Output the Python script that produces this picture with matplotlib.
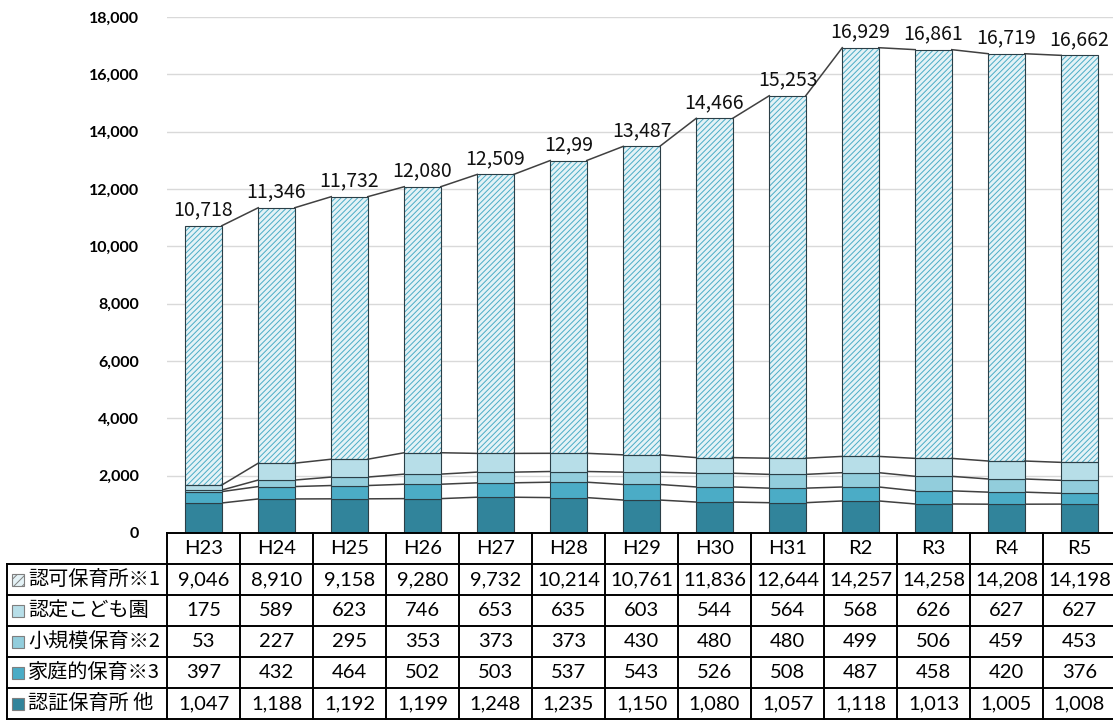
import matplotlib
matplotlib.use("Agg")
import matplotlib.pyplot as plt
from matplotlib.patches import Rectangle

plt.rcParams['font.family'] = ['Lato', 'Noto Sans CJK JP', 'DejaVu Sans']
plt.rcParams['hatch.linewidth'] = 0.7

years = ["H23", "H24", "H25", "H26", "H27", "H28", "H29", "H30", "H31", "R2", "R3", "R4", "R5"]
# 下から積み上げ順
ninsho = [1047, 1188, 1192, 1199, 1248, 1235, 1150, 1080, 1057, 1118, 1013, 1005, 1008]
katei = [397, 432, 464, 502, 503, 537, 543, 526, 508, 487, 458, 420, 376]
shokibo = [53, 227, 295, 353, 373, 373, 430, 480, 480, 499, 506, 459, 453]
nintei = [175, 589, 623, 746, 653, 635, 603, 544, 564, 568, 626, 627, 627]
ninka = [9046, 8910, 9158, 9280, 9732, 10214, 10761, 11836, 12644, 14257, 14258, 14208, 14198]
total_labels = ["10,718", "11,346", "11,732", "12,080", "12,509", "12,99", "13,487",
                "14,466", "15,253", "16,929", "16,861", "16,719", "16,662"]

stack = [ninsho, katei, shokibo, nintei, ninka]
names = ["認証保育所 他", "家庭的保育※3", "小規模保育※2", "認定こども園", "認可保育所※1"]
colors = ["#31849B", "#4BACC6", "#92CDDC", "#B7DEE8", "#E4F2F6"]

W, H = 1113, 720
fig = plt.figure(figsize=(W / 100, H / 100), dpi=100)
X0, CW = 167, 73  # 表の列開始, 列幅 (px)
Y0, YT = 533, 17
ax = fig.add_axes([X0 / W, 1 - Y0 / H, (13 * CW) / W, (Y0 - YT) / H])

x = list(range(len(years)))
bw = 0.5
bottom = [0] * len(years)
tops = []
for k, vals in enumerate(stack):
    if k == 4:
        ax.bar(x, vals, bw, bottom=bottom, color=colors[k], edgecolor="#4BACC6",
               hatch="//////", linewidth=0, zorder=2)
        ax.bar(x, vals, bw, bottom=bottom, fill=False, edgecolor="#2b3f47",
               linewidth=0.8, zorder=3)
    else:
        ax.bar(x, vals, bw, bottom=bottom, color=colors[k], edgecolor="#2b3f47",
               linewidth=0.8, zorder=3)
    bottom = [b + v for b, v in zip(bottom, vals)]
    tops.append(bottom)

# 区分線
for lvl in tops:
    for i in range(len(years) - 1):
        ax.plot([i + bw / 2, i + 1 - bw / 2], [lvl[i], lvl[i + 1]],
                color="#404040", lw=1.1, zorder=2.5)

for i, lab in enumerate(total_labels):
    ax.text(i, tops[-1][i] + 180, lab, ha="center", va="bottom", fontsize=14,
            family=["Noto Sans CJK JP"], color="#111111")

ax.set_xlim(-0.5, 12.5)
ax.set_ylim(0, 18000)
ax.set_yticks(range(0, 18001, 2000))
ax.set_yticklabels([f"{v:,}" for v in range(0, 18001, 2000)], fontweight="bold", fontsize=11.5)
ax.tick_params(axis="y", length=0, pad=20)
ax.set_xticks([])
for s in ax.spines.values():
    s.set_visible(False)
ax.grid(axis="y", color="#d9d9d9", lw=1, zorder=0)
ax.set_axisbelow(True)

# データテーブル
tx = fig.add_axes([0, 0, 1, 1], zorder=5)
tx.set_xlim(0, W); tx.set_ylim(H, 0); tx.axis("off")
tx.patch.set_visible(False)
LX = 7
rows_y = [564 + 31 * k for k in range(6)]
lc, lw = "black", 1.4
tx.plot([X0, X0 + 13 * CW], [Y0, Y0], color=lc, lw=lw)
for y in rows_y:
    tx.plot([LX, X0 + 13 * CW], [y, y], color=lc, lw=lw)
for j in range(14):
    tx.plot([X0 + j * CW] * 2, [Y0, rows_y[-1]], color=lc, lw=lw)
tx.plot([LX, LX], [rows_y[0], rows_y[-1]], color=lc, lw=lw)

for j, yr in enumerate(years):
    tx.text(X0 + (j + 0.5) * CW, (Y0 + rows_y[0]) / 2, yr, ha="center", va="center", fontsize=14.5)

for r, k in enumerate([4, 3, 2, 1, 0]):
    yc = (rows_y[r] + rows_y[r + 1]) / 2
    tx.add_patch(Rectangle((12, yc - 6), 12, 12, facecolor=colors[k],
                           edgecolor="#7f7f7f", lw=0.8,
                           hatch="////" if k == 4 else None))
    tx.text(28, yc, names[k], ha="left", va="center", fontsize=14.5,
            family=["Noto Sans CJK JP"])
    for j, v in enumerate(stack[k]):
        tx.text(X0 + (j + 0.5) * CW, yc, f"{v:,}", ha="center", va="center", fontsize=14.5)

fig.savefig("out.png", dpi=100)
